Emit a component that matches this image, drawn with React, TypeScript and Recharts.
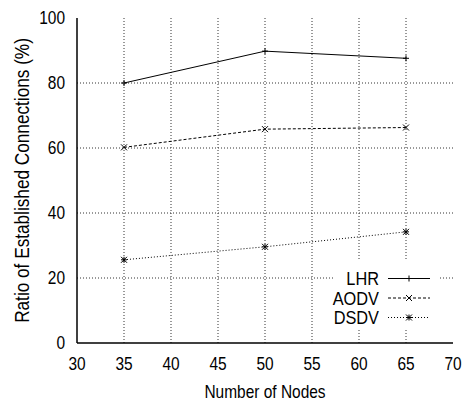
import React from 'react';
import { LineChart, Line, XAxis, YAxis, ReferenceLine } from 'recharts';

const nodes = [35, 50, 65];
const lhr = [80, 89.8, 87.6];
const aodv = [60.2, 65.8, 66.3];
const dsdv = [25.6, 29.6, 34.2];
const xTicks = [30, 35, 40, 45, 50, 55, 60, 65, 70];
const yTicks = [0, 20, 40, 60, 80, 100];
const seriesNames = ['LHR', 'AODV', 'DSDV'];

const data = nodes.map((n, i) => ({ n, LHR: lhr[i], AODV: aodv[i], DSDV: dsdv[i] }));

const FONT = '"Liberation Sans", Arial, sans-serif';
const SX = 0.86;

const Plus = (p: any) => {
  const { cx, cy } = p;
  if (cx == null || cy == null) return null;
  return (
    <g stroke="#000" strokeWidth={1}>
      <line x1={cx - 3} y1={cy} x2={cx + 3} y2={cy} />
      <line x1={cx} y1={cy - 3} x2={cx} y2={cy + 3} />
    </g>
  );
};
const Cross = (p: any) => {
  const { cx, cy } = p;
  if (cx == null || cy == null) return null;
  return (
    <g stroke="#000" strokeWidth={1}>
      <line x1={cx - 3} y1={cy - 3} x2={cx + 3} y2={cy + 3} />
      <line x1={cx - 3} y1={cy + 3} x2={cx + 3} y2={cy - 3} />
    </g>
  );
};
const Star = (p: any) => {
  const { cx, cy } = p;
  if (cx == null || cy == null) return null;
  return (
    <g stroke="#000" strokeWidth={1}>
      <line x1={cx - 3} y1={cy - 3} x2={cx + 3} y2={cy + 3} />
      <line x1={cx - 3} y1={cy + 3} x2={cx + 3} y2={cy - 3} />
      <line x1={cx - 3} y1={cy} x2={cx + 3} y2={cy} />
      <line x1={cx} y1={cy - 3} x2={cx} y2={cy + 3} />
    </g>
  );
};

const dashes: (string | undefined)[] = [undefined, '3 2', '1 2'];
const markers = [Plus, Cross, Star];

const XTick = (p: any) => {
  const { x, y, payload } = p;
  return (
    <text transform={`translate(${x},${y}) scale(${SX},1)`} x={0} y={0} dy="0.71em" textAnchor="middle" fontFamily={FONT} fontSize={18} fill="#000">
      {payload.value}
    </text>
  );
};
const YTick = (p: any) => {
  const { x, y, payload } = p;
  return (
    <text transform={`translate(${x},${y}) scale(${SX},1)`} x={0} y={0} dy="0.355em" textAnchor="end" fontFamily={FONT} fontSize={18} fill="#000">
      {payload.value}
    </text>
  );
};

const XLabel = (p: any) => {
  const vb = p.viewBox || {};
  const cx = (vb.x ?? 0) + (vb.width ?? 0) / 2;
  return (
    <text transform={`translate(${cx},398) scale(${SX},1)`} x={0} y={0} textAnchor="middle" fontFamily={FONT} fontSize={18} fill="#000">
      Number of Nodes
    </text>
  );
};
const YLabel = (p: any) => {
  const vb = p.viewBox || {};
  const cy = (vb.y ?? 0) + (vb.height ?? 0) / 2;
  return (
    <text transform={`translate(29,${cy}) rotate(-90) scale(${SX},1)`} x={0} y={0} textAnchor="middle" fontFamily={FONT} fontSize={20} fill="#000">
      Ratio of Established Connections (%)
    </text>
  );
};

const LegendOverlay = () => (
  <svg width={470} height={403} style={{ position: 'absolute', left: 0, top: 0, pointerEvents: 'none' }}>
    <rect x={334} y={259} width={105} height={70} fill="#fff" />
    {seriesNames.map((name, i) => {
      const M = markers[i];
      const cy = 278.5 + i * 19.5;
      return (
        <g key={name}>
          <text transform={`translate(379,${cy}) scale(${SX},1)`} x={0} y={0} dy="0.355em" textAnchor="end" fontFamily={FONT} fontSize={19} fill="#000">
            {name}
          </text>
          <line x1={388} y1={cy} x2={430} y2={cy} stroke="#000" strokeWidth={1} strokeDasharray={dashes[i]} />
          <M cx={409} cy={cy} />
        </g>
      );
    })}
  </svg>
);

export default function App() {
  return (
    <div style={{ position: 'absolute', left: 0, top: 0, width: 470, height: 403, background: '#fff' }}>
      <LineChart width={470} height={403} data={data} margin={{ top: 18, right: 17, left: 0, bottom: 0 }}>
        {xTicks.slice(1, -1).map((t) => (
          <ReferenceLine key={'x' + t} x={t} stroke="#333" strokeWidth={1} strokeDasharray="1 2" />
        ))}
        {yTicks.slice(1, -1).map((t) => (
          <ReferenceLine key={'y' + t} y={t} stroke="#333" strokeWidth={1} strokeDasharray="1 2" />
        ))}
        <XAxis
          dataKey="n"
          type="number"
          domain={[30, 70]}
          ticks={xTicks}
          tickSize={0}
          tickMargin={14}
          height={60}
          tick={<XTick />}
          axisLine={{ stroke: '#000', strokeWidth: 1.5 }}
          label={<XLabel />}
        />
        <XAxis xAxisId="top" orientation="top" dataKey="n" type="number" domain={[30, 70]} ticks={xTicks} tick={false} tickSize={0} height={0} axisLine={{ stroke: '#000', strokeWidth: 1.5 }} />
        <YAxis
          type="number"
          domain={[0, 100]}
          ticks={yTicks}
          tickSize={0}
          tickMargin={12}
          width={77}
          tick={<YTick />}
          axisLine={{ stroke: '#000', strokeWidth: 1.5 }}
          label={<YLabel />}
        />
        <YAxis yAxisId="right" orientation="right" domain={[0, 100]} ticks={yTicks} tick={false} tickSize={0} width={0} axisLine={{ stroke: '#000', strokeWidth: 1.5 }} />
        <Line dataKey="LHR" stroke="#000" strokeWidth={1} dot={<Plus />} activeDot={false} isAnimationActive={false} />
        <Line dataKey="AODV" stroke="#000" strokeWidth={1} strokeDasharray="3 2" dot={<Cross />} activeDot={false} isAnimationActive={false} />
        <Line dataKey="DSDV" stroke="#000" strokeWidth={1} strokeDasharray="1 2" dot={<Star />} activeDot={false} isAnimationActive={false} />
      </LineChart>
      <LegendOverlay />
    </div>
  );
}
